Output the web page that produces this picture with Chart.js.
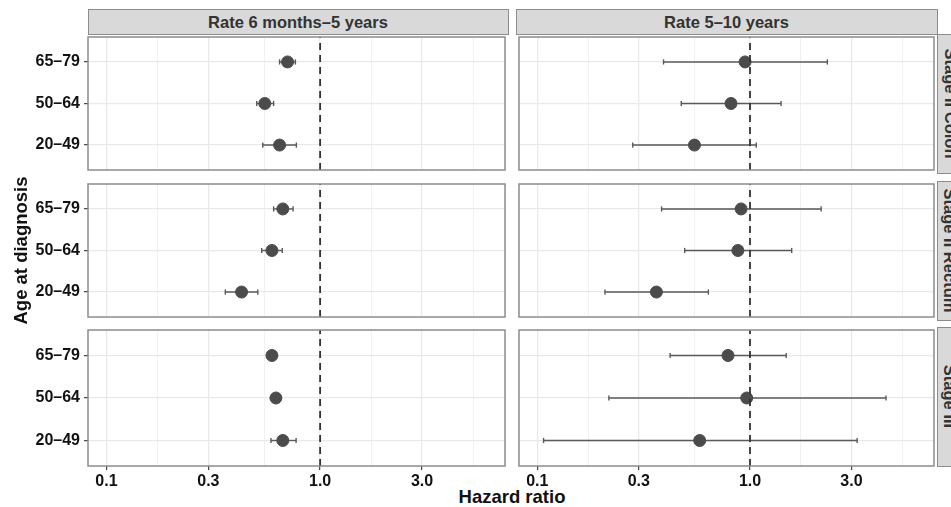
<!DOCTYPE html>
<html>
<head>
<meta charset="utf-8">
<script src="https://cdn.jsdelivr.net/npm/chart.js@4.4.1/dist/chart.umd.min.js"></script>
<style>
  html, body { margin: 0; padding: 0; background: #fff; overflow: hidden; }
  #fig { position: relative; width: 951px; height: 507px; overflow: hidden; background: #fff;
         font-family: "Liberation Sans", Arial, sans-serif; }
  canvas { position: absolute; }
  .strip { position: absolute; box-sizing: border-box; background: #d9d9d9; border: 1.5px solid #8c8c8c;
           color: #333; font-weight: bold; font-size: 16.5px; display: flex; align-items: center;
           justify-content: center; white-space: nowrap; }
  .strip.side span { display: block; transform: rotate(90deg); }
  #xtitle { position: absolute; left: 0; width: 1024px; top: 488px; text-align: center;
            font-weight: bold; font-size: 18.5px; line-height: 18.5px; color: #111; }
</style>
</head>
<body>
<div id="fig"><div id="xtitle">Hazard ratio</div></div>
<script>
// ---------- Data ----------
const ageGroups = ["65–79", "50–64", "20–49"];     // top to bottom
const stages = ["Stage II Colon", "Stage II Rectum", "Stage III"];
const periods = ["Rate 6 months–5 years", "Rate 5–10 years"];

const xMajorTicks = [0.1, 0.3, 1, 3];
const xTickLabels = ["0.1", "0.3", "1.0", "3.0"];
const xMinorTicks = [0.1732, 0.5477, 1.732, 5.196];  // ggplot minor breaks (log midpoints)
const refLine = 1;

// Stage II Colon
const colonEarlyHR = [0.704, 0.551, 0.646];
const colonEarlyLo = [0.646, 0.505, 0.539];
const colonEarlyHi = [0.766, 0.606, 0.774];
const colonLateHR = [0.948, 0.814, 0.548];
const colonLateLo = [0.392, 0.475, 0.281];
const colonLateHi = [2.31, 1.40, 1.07];

// Stage II Rectum
const rectumEarlyHR = [0.669, 0.595, 0.429];
const rectumEarlyLo = [0.606, 0.533, 0.360];
const rectumEarlyHi = [0.747, 0.665, 0.511];
const rectumLateHR = [0.908, 0.877, 0.363];
const rectumLateLo = [0.384, 0.493, 0.208];
const rectumLateHi = [2.16, 1.57, 0.637];

// Stage III
const stage3EarlyHR = [0.595, 0.621, 0.669];
const stage3EarlyLo = [0.580, 0.605, 0.589];
const stage3EarlyHi = [0.612, 0.637, 0.772];
const stage3LateHR = [0.788, 0.965, 0.580];
const stage3LateLo = [0.421, 0.217, 0.107];
const stage3LateHi = [1.48, 4.36, 3.19];

const panels = [
  [[colonEarlyHR, colonEarlyLo, colonEarlyHi], [colonLateHR, colonLateLo, colonLateHi]],
  [[rectumEarlyHR, rectumEarlyLo, rectumEarlyHi], [rectumLateHR, rectumLateLo, rectumLateHi]],
  [[stage3EarlyHR, stage3EarlyLo, stage3EarlyHi], [stage3LateHR, stage3LateLo, stage3LateHi]]
];

// ---------- Layout ----------
const FIG_H = 507;
const colX = [[88, 508], [516, 937]];
const rowY = [[34, 173], [181, 320], [327, 466]];
const X_MIN = 0.082, X_MAX = 7.33;
const Y_MIN = 0.4, Y_MAX = 3.6;     // ggplot discrete expansion of 0.6
const M = 4;

const FONT = "'Liberation Sans', Arial, sans-serif";
const fig = document.getElementById("fig");

const panelBorder = {
  id: "panelBorder",
  afterDatasetsDraw(chart) {
    const { ctx, chartArea: a } = chart;
    ctx.save();
    ctx.strokeStyle = "#8c8c8c";
    ctx.lineWidth = 1.5;
    ctx.strokeRect(a.left, a.top, a.right - a.left, a.bottom - a.top);
    ctx.restore();
  }
};

const isMajor = (v) => xMajorTicks.indexOf(v) !== -1;
const yOf = (i) => ageGroups.length - i;

function zeroPadding(s) {
  s.paddingTop = 0; s.paddingBottom = 0; s.paddingLeft = 0; s.paddingRight = 0;
}

function makePanel(r, c) {
  const [L, R] = colX[c];
  const [T, B] = rowY[r];
  const [hr, lo, hi] = panels[r][c];
  const bottomRow = r === stages.length - 1;
  const leftCol = c === 0;

  const cx = leftCol ? 0 : L - M;
  const cy = T - M;
  const cw = R + M - cx;
  const ch = (bottomRow ? FIG_H : B + M) - cy;

  const canvas = document.createElement("canvas");
  canvas.width = cw; canvas.height = ch;
  canvas.style.left = cx + "px"; canvas.style.top = cy + "px";
  canvas.style.width = cw + "px"; canvas.style.height = ch + "px";
  fig.appendChild(canvas);

  const datasets = [
    {
      data: [{ x: refLine, y: Y_MIN }, { x: refLine, y: Y_MAX }],
      showLine: true, borderColor: "#333", borderWidth: 1.8, borderDash: [7, 5], pointRadius: 0
    },
    {
      data: hr.map((v, i) => ({ x: v, y: yOf(i) })),
      pointRadius: 6, pointBackgroundColor: "#4b4b4b", pointBorderColor: "#4b4b4b", pointBorderWidth: 1
    }
  ];
  hr.forEach((v, i) => {
    datasets.push({
      data: [{ x: lo[i], y: yOf(i) }, { x: hi[i], y: yOf(i) }],
      showLine: true, borderColor: "#5a5a5a", borderWidth: 1.4,
      pointStyle: "line", pointRotation: 90, pointRadius: 2.6,
      pointBorderColor: "#5a5a5a", pointBorderWidth: 1.4
    });
  });

  new Chart(canvas, {
    type: "scatter",
    data: { datasets },
    options: {
      responsive: false,
      animation: false,
      events: [],
      layout: { padding: { left: leftCol ? 0 : M, right: M, top: M, bottom: bottomRow ? 0 : M } },
      plugins: { legend: { display: false }, tooltip: { enabled: false } },
      scales: {
        x: {
          type: "logarithmic", min: X_MIN, max: X_MAX,
          afterBuildTicks: (s) => {
            s.ticks = xMajorTicks.concat(xMinorTicks).sort((a, b) => a - b).map((v) => ({ value: v }));
          },
          afterFit: (s) => { s.height = bottomRow ? FIG_H - B : 0; zeroPadding(s); },
          border: { display: false },
          grid: {
            color: (ctx) => isMajor(ctx.tick.value) ? "#e9e9e9" : "#f1f1f1",
            lineWidth: (ctx) => isMajor(ctx.tick.value) ? 1.3 : 1,
            drawTicks: bottomRow, tickLength: 4, tickWidth: 1.1,
            tickColor: (ctx) => isMajor(ctx.tick.value) ? "#333" : "rgba(0,0,0,0)"
          },
          ticks: {
            display: bottomRow, autoSkip: false, maxRotation: 0, padding: 2, color: "#111",
            font: { family: FONT, size: 16, weight: "bold" },
            callback: (v) => { const k = xMajorTicks.indexOf(v); return k === -1 ? "" : xTickLabels[k]; }
          }
        },
        y: {
          type: "linear", min: Y_MIN, max: Y_MAX,
          afterBuildTicks: (s) => { s.ticks = ageGroups.map((g, i) => ({ value: yOf(i) })); },
          afterFit: (s) => { s.width = leftCol ? L : 0; zeroPadding(s); },
          border: { display: false },
          grid: { color: "#e9e9e9", lineWidth: 1.3, drawTicks: leftCol, tickLength: 4, tickWidth: 1.1, tickColor: "#333" },
          ticks: {
            display: leftCol, padding: 4, color: "#111",
            font: { family: FONT, size: 16, weight: "bold" },
            callback: (v) => ageGroups[ageGroups.length - v]
          },
          title: {
            display: leftCol && r === 1, text: "Age at diagnosis", color: "#111",
            font: { family: FONT, size: 18.5, weight: "bold" },
            padding: { top: 11, bottom: 0 }
          }
        }
      }
    },
    plugins: [panelBorder]
  });
}

function addStrip(text, left, top, width, height, side) {
  const d = document.createElement("div");
  d.className = "strip" + (side ? " side" : "");
  d.style.left = left + "px"; d.style.top = top + "px";
  d.style.width = width + "px"; d.style.height = height + "px";
  const s = document.createElement("span");
  s.textContent = text;
  d.appendChild(s);
  fig.appendChild(d);
}

periods.forEach((p, c) => addStrip(p, colX[c][0] - 0.5, 9, colX[c][1] - colX[c][0] + 1, 26, false));
stages.forEach((s, r) => addStrip(s, 936.5, rowY[r][0] - 0.5, 26, rowY[r][1] - rowY[r][0] + 1, true));

for (let r = 0; r < stages.length; r++) {
  for (let c = 0; c < periods.length; c++) makePanel(r, c);
}
</script>
</body>
</html>
